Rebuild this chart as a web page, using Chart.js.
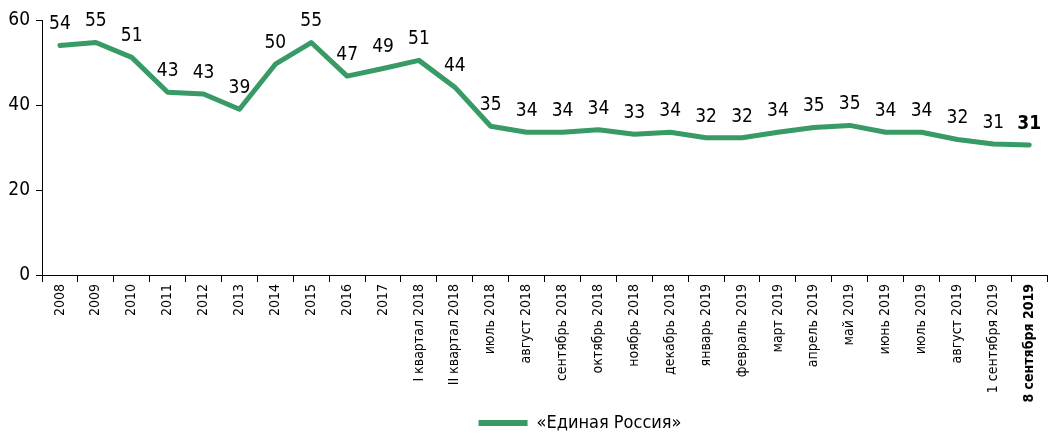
<!DOCTYPE html>
<html>
<head>
    <title>Единая Россия</title>
    <script src="https://cdn.jsdelivr.net/npm/chart.js"></script>
    <style>
        html, body { margin: 0; padding: 0; background: #fff; }
        #wrap { width: 1048px; height: 433px; position: relative; }
    </style>
</head>
<body>
    <div id="wrap"><canvas id="myChart"></canvas></div>

    <script>
        const categories = ['2008', '2009', '2010', '2011', '2012', '2013', '2014', '2015', '2016', '2017',
            'I квартал 2018', 'II квартал 2018', 'июль 2018', 'август 2018', 'сентябрь 2018', 'октябрь 2018',
            'ноябрь 2018', 'декабрь 2018', 'январь 2019', 'февраль 2019', 'март 2019', 'апрель 2019',
            'май 2019', 'июнь 2019', 'июль 2019', 'август 2019', '1 сентября 2019', '8 сентября 2019'];
        const values = [54.0, 54.7, 51.2, 43.0, 42.6, 39.0, 49.6, 54.7, 46.8, 48.6,
            50.5, 44.2, 35.0, 33.6, 33.6, 34.2, 33.1, 33.6, 32.3, 32.3, 33.6, 34.7,
            35.2, 33.6, 33.6, 31.9, 30.8, 30.6];
        const yTicks = [0, 20, 40, 60];
        const seriesName = '«Единая Россия»';
        const green = 'rgb(56, 154, 100)';
        const narrow = '"DejaVu Sans Condensed", "Liberation Sans Narrow", sans-serif';
        const last = categories.length - 1;

        // numbers above the line
        const valueLabels = {
            id: 'valueLabels',
            afterDatasetsDraw(chart) {
                const ctx = chart.ctx;
                const meta = chart.getDatasetMeta(0);
                ctx.save();
                ctx.fillStyle = '#000';
                ctx.textAlign = 'center';
                ctx.textBaseline = 'middle';
                meta.data.forEach((pt, i) => {
                    ctx.font = (i === last ? 'bold ' : '') + '19px ' + narrow;
                    ctx.fillText(String(Math.round(values[i])), pt.x, pt.y - 21);
                });
                ctx.restore();
            }
        };

        // legend sits a bit right of the page centre in the original
        const legendShift = {
            id: 'legendShift',
            afterLayout(chart) {
                chart.legend.left += 56;
                chart.legend.right += 56;
            }
        };

        const ctx = document.getElementById('myChart').getContext('2d');
        new Chart(ctx, {
            type: 'line',
            data: {
                labels: categories,
                datasets: [{
                    label: seriesName,
                    data: values,
                    borderColor: green,
                    backgroundColor: green,
                    borderWidth: 5,
                    pointRadius: 0,
                    tension: 0,
                    borderCapStyle: 'round',
                    borderJoinStyle: 'round'
                }]
            },
            options: {
                responsive: true,
                maintainAspectRatio: false,
                animation: false,
                layout: { padding: { top: 20, right: 0, left: 0, bottom: -9 } },
                plugins: {
                    tooltip: { enabled: false },
                    legend: {
                        position: 'bottom',
                        labels: {
                            color: '#000',
                            boxWidth: 49,
                            boxHeight: 6,
                            padding: 3,
                            font: { family: narrow, size: 18 },
                            generateLabels(chart) {
                                return Chart.defaults.plugins.legend.labels.generateLabels(chart).map(l => {
                                    l.lineWidth = 0;
                                    l.fillStyle = green;
                                    return l;
                                });
                            }
                        }
                    }
                },
                scales: {
                    x: {
                        offset: true,
                        afterFit: axis => { axis.height = 136; },
                        grid: { offset: true, drawOnChartArea: false, drawTicks: true, tickLength: 7, color: '#000' },
                        border: { color: '#000', width: 1 },
                        ticks: {
                            color: '#000',
                            autoSkip: false,
                            maxRotation: 90,
                            minRotation: 90,
                            padding: 2,
                            font: ctx => ({
                                family: '"DejaVu Sans Condensed", "DejaVu Sans", sans-serif',
                                size: 14,
                                weight: ctx.index === last ? 'bold' : 'normal'
                            })
                        }
                    },
                    y: {
                        min: 0,
                        max: 60,
                        afterBuildTicks: axis => { axis.ticks = yTicks.map(v => ({ value: v })); },
                        afterFit: axis => { axis.width = 42; },
                        grid: { drawOnChartArea: false, drawTicks: true, tickLength: 6, color: '#000' },
                        border: { color: '#000', width: 1 },
                        ticks: {
                            color: '#000',
                            padding: 6,
                            font: { family: narrow, size: 19 }
                        }
                    }
                }
            },
            plugins: [valueLabels, legendShift]
        });
    </script>
</body>
</html>
